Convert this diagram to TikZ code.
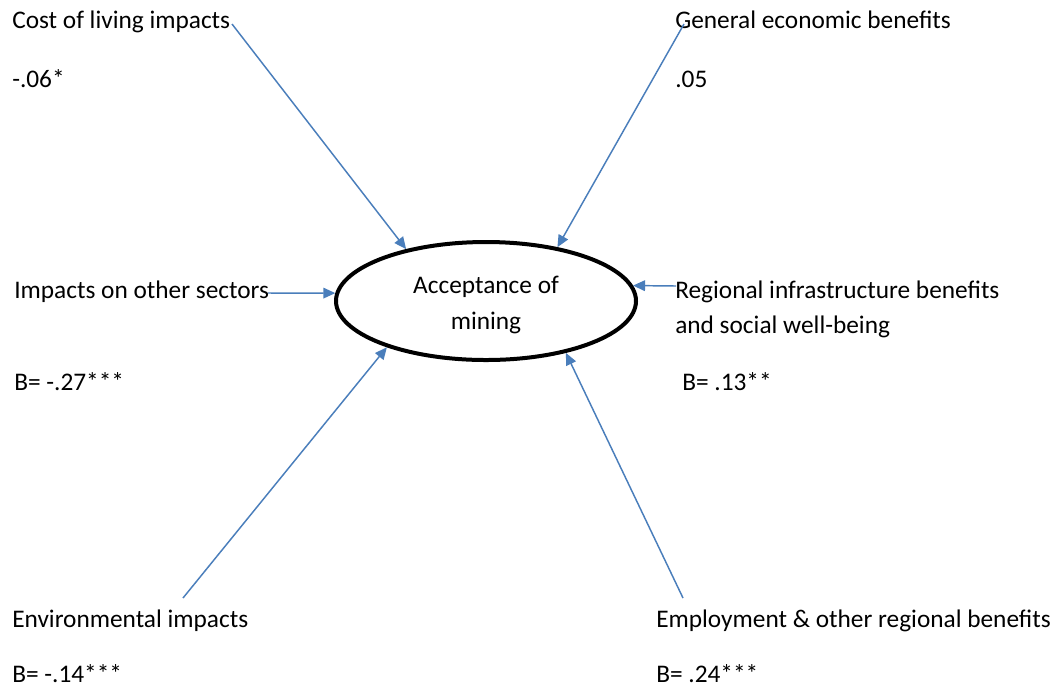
\documentclass[tikz,border=0pt]{standalone}
\usepackage{fontspec}
\setmainfont{Carlito}
\usetikzlibrary{shapes.geometric,arrows.meta}
\definecolor{linkblue}{HTML}{4A7EBB}
\begin{document}
\begin{tikzpicture}[x=0.75pt,y=-0.75pt,
  label/.style={anchor=base west,inner sep=0pt,font=\fontsize{19}{26}\selectfont},
  link/.style={draw=linkblue,line width=1.1pt,-{Triangle[length=9pt,width=8pt]}},
  hub/.style={ellipse,draw=black,line width=3pt,minimum width=225pt,minimum height=88.5pt,
    inner sep=0pt}]
\useasboundingbox (0,0) rectangle (1055,687);
\fill[white] (0,0) rectangle (1055,687);

% central construct
\node[hub] (acc) at (486,301) {};
\node[anchor=base,inner sep=0pt,align=center,font=\fontsize{19}{27}\selectfont]
  (accText) at (486,329) {Acceptance of\\mining};

% predictor labels and coefficients
\node[label] (cost) at (12,28) {Cost of living impacts};
\node[label] (costB) at (12,87) {-.06*};
\node[label] (gen) at (675,28) {General economic benefits};
\node[label] (genB) at (675,87) {.05};
\node[label] (sect) at (14,298) {Impacts on other sectors};
\node[label] (sectB) at (14,390) {B= -.27***};
\node[label,align=left] (infra) at (675,333) {Regional infrastructure benefits\\and social well-being};
\node[label] (infraB) at (682,390) {B= .13**};
\node[label] (env) at (12,627) {Environmental impacts};
\node[label] (envB) at (12,682) {B= -.14***};
\node[label] (emp) at (656,627) {Employment \& other regional benefits};
\node[label] (empB) at (656,682) {B= .24***};

% free ends of the paths
\coordinate (sCost) at (232,24);
\coordinate (sGen) at (684,24);
\coordinate (sSect) at (268,293);
\coordinate (sInfra) at (676,286);
\coordinate (sEnv) at (183,598);
\coordinate (sEmp) at (683,598);

% paths into the construct
\draw[link] (sCost) -- (acc.147);
\draw[link] (sGen) -- (acc.37);
\draw[link] (sSect) -- (acc.177);
\draw[link] (sInfra) -- (acc.6);
\draw[link] (sEnv) -- (acc.205);
\draw[link] (sEmp) -- (acc.327);
\end{tikzpicture}
\end{document}
